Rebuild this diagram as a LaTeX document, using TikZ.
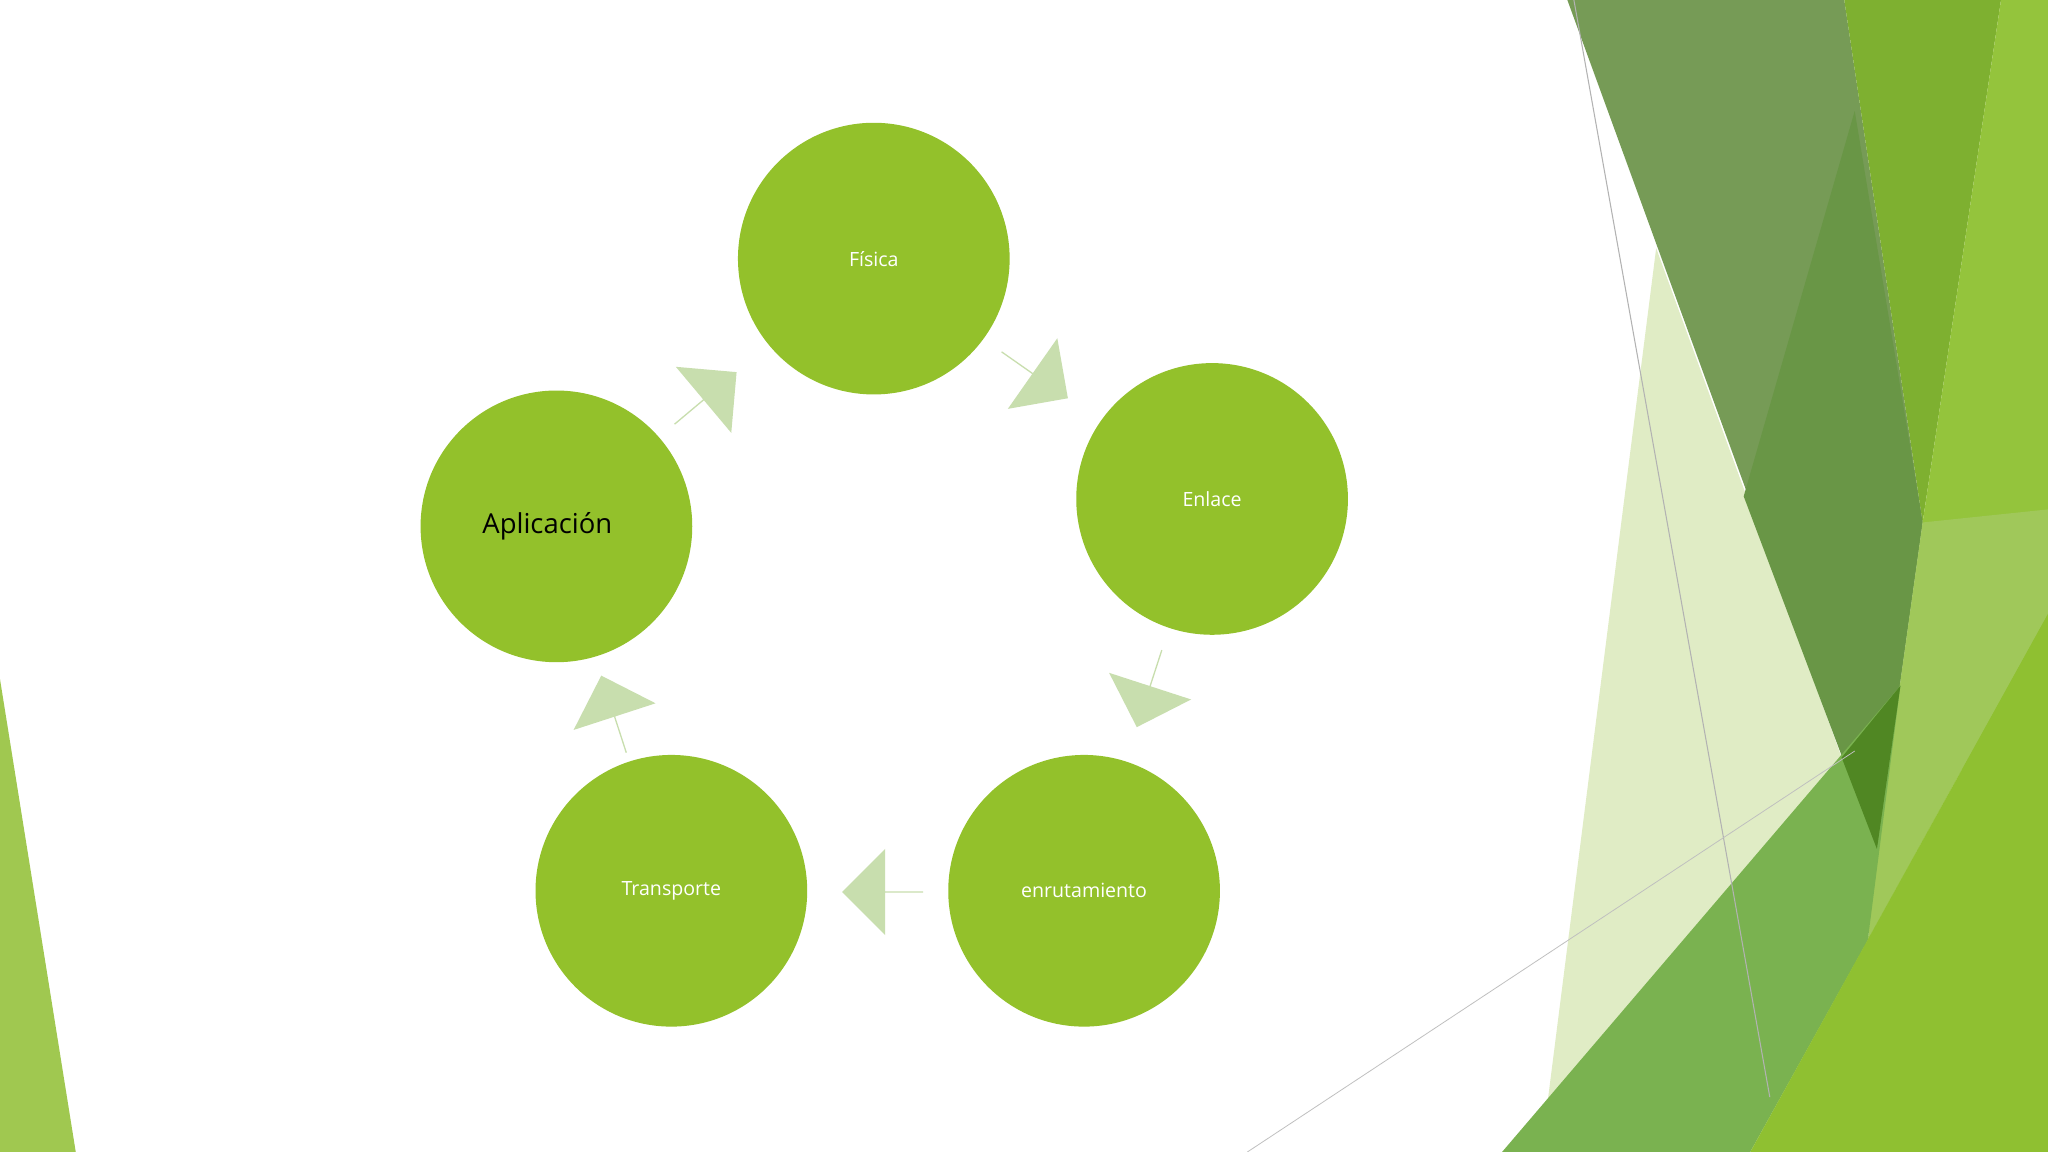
\documentclass[tikz,border=0pt]{standalone}
\usepackage{fontspec}
\setmainfont{Open Sans}
\usetikzlibrary{shapes.arrows}
\definecolor{cg}{HTML}{93C12B}
\definecolor{ca}{HTML}{C8DEAE}
\begin{document}
\begin{tikzpicture}[x=1pt,y=-1pt,
 circ/.style={circle,fill=cg,minimum size=208pt,inner sep=0pt,text=white,font=\fontsize{15}{18}\selectfont},
 arr/.style={single arrow,fill=ca,minimum height=62pt,minimum width=66pt,single arrow head extend=13pt,inner sep=0pt}]
\useasboundingbox (0,0) rectangle (1568,882);
\fill[white] (0,0) rectangle (1568,882);
% background right
\fill[fill={rgb,255:red,224;green,236;blue,197}] (1268,190)--(1410,580)--(1195,882)--(1180,882)--cycle;
\fill[fill={rgb,255:red,118;green,155;blue,86}] (1200,0)--(1412,0)--(1472,400)--(1437,650)--cycle;
\fill[fill={rgb,255:red,126;green,176;blue,48}] (1412,0)--(1532,0)--(1472,400)--cycle;
\fill[fill={rgb,255:red,105;green,150;blue,70}] (1335,380)--(1420,85)--(1472,400)--(1437,650)--cycle;
\fill[fill={rgb,255:red,148;green,196;blue,60}] (1532,0)--(1568,0)--(1568,882)--(1500,580)--(1472,400)--cycle;
\fill[fill={rgb,255:red,160;green,200;blue,90}] (1472,400)--(1568,390)--(1568,470)--(1430,720)--(1437,650)--cycle;
\fill[fill={rgb,255:red,122;green,178;blue,80}] (1150,882)--(1455,525)--(1430,720)--(1340,882)--cycle;
\fill[fill={rgb,255:red,143;green,192;blue,49}] (1340,882)--(1568,470)--(1568,882)--cycle;
\fill[fill={rgb,255:red,80;green,135;blue,35}] (1410,580)--(1455,525)--(1437,650)--cycle;
\draw[gray!60,line width=0.8pt] (1205,0)--(1355,840);
\draw[gray!50,line width=0.6pt] (955,882)--(1420,575);
% left wedge
\fill[fill={rgb,255:red,160;green,200;blue,80}] (0,520)--(58,882)--(0,882)--cycle;
% circles
\node[circ] (f) at (669,198) {Física};
\node[circ] (e) at (928,382) {Enlace};
\node[circ] (r) at (830,682) {enrutamiento};
\node[circ] (t) at (514,682) {Transporte};
\node[circ,text=black,font=\fontsize{21}{25}\selectfont] (a) at (426,403) {\hspace*{-14pt}Aplicación};
% arrows
\node[arr,rotate=-35] (a1) at (792,287) {};
\node[arr,rotate=-108] (a2) at (880,527) {};
\node[arr,rotate=180] (a3) at (676,683) {};
\node[arr,rotate=108] (a4) at (470,547) {};
\node[arr,rotate=40] (a5) at (540,305) {};
\end{tikzpicture}
\end{document}
